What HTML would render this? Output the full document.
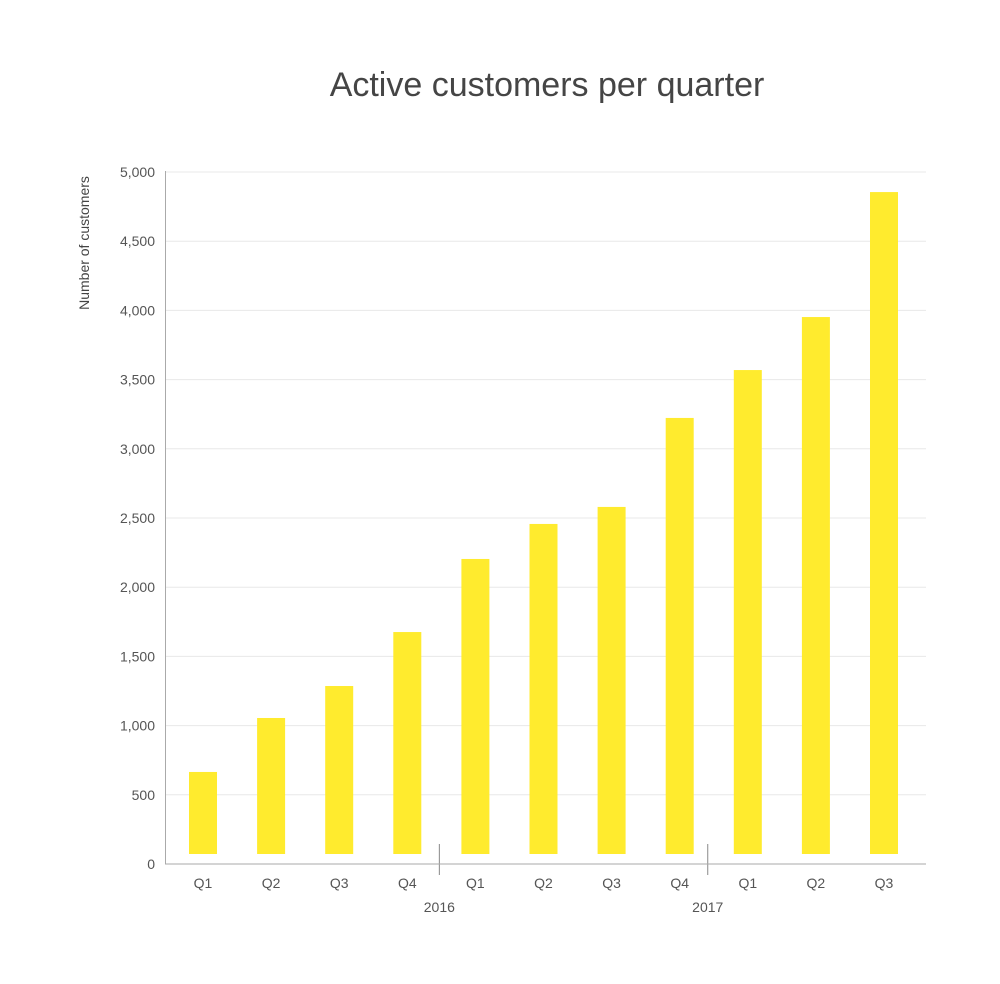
<!DOCTYPE html>
<html><head><meta charset="utf-8"><style>
body{margin:0;background:#fff;}
svg text{font-family:"Liberation Sans",sans-serif;}
</style></head><body>
<svg width="1000" height="979">
<text x="547" y="96" text-anchor="middle" font-size="34" fill="#454545">Active customers per quarter</text>
<text transform="translate(89,243) rotate(-90)" text-anchor="middle" font-size="14" fill="#444">Number of customers</text>
<g id="grid"></g><g id="bars"></g><g id="xl"></g>
<line x1="165.5" y1="171" x2="165.5" y2="864" stroke="#aaa"/>
<line x1="165" y1="864" x2="926" y2="864" stroke="#aaa"/>
</svg>
<script>
const categories=["Q1","Q2","Q3","Q4","Q1","Q2","Q3","Q4","Q1","Q2","Q3"];
const values=[665,1055,1286,1676,2204,2457,2580,3223,3569,3952,4855];
const yTicks=[0,500,1000,1500,2000,2500,3000,3500,4000,4500,5000];
const yTickLabels=["0","500","1,000","1,500","2,000","2,500","3,000","3,500","4,000","4,500","5,000"];
const years=["2016","2017"];
const NS="http://www.w3.org/2000/svg";
const y=v=>864-v*(692/5000);
const x=i=>203+i*68.1;
function mk(t,a,p,txt){const e=document.createElementNS(NS,t);for(const k in a)e.setAttribute(k,a[k]);if(txt!=null)e.textContent=txt;p.appendChild(e);return e;}
const g=document.getElementById('grid'),b=document.getElementById('bars'),xl=document.getElementById('xl');
yTicks.forEach((v,i)=>{
 if(v>0){const l=mk('line',{x1:166,x2:926,y1:y(v),y2:y(v),stroke:'#e8e8e8'},g);
 
 }
 const t=mk('text',{x:155,y:y(v)+5,'text-anchor':'end','font-size':14,fill:'#555'},g,yTickLabels[i]);
 
 
});
values.forEach((v,i)=>{
 const r=mk('rect',{x:x(i)-14,y:y(v),width:28,height:Math.max(0,854-y(v)),fill:'#ffeb2e'},b);
 
 
 const t=mk('text',{x:x(i),y:888,'text-anchor':'middle','font-size':14,fill:'#555'},xl,categories[i]);
 
 
});
years.forEach((yr,k)=>{
 const sx=(x(3+4*k)+x(4+4*k))/2-2-4*k;
 const l=mk('line',{x1:sx,x2:sx,y1:844,y2:875,stroke:'#888'},xl);
 
 
 const t=mk('text',{x:sx,y:912,'text-anchor':'middle','font-size':14,fill:'#555'},xl,yr);
 
 
});
</script>
</body></html>
